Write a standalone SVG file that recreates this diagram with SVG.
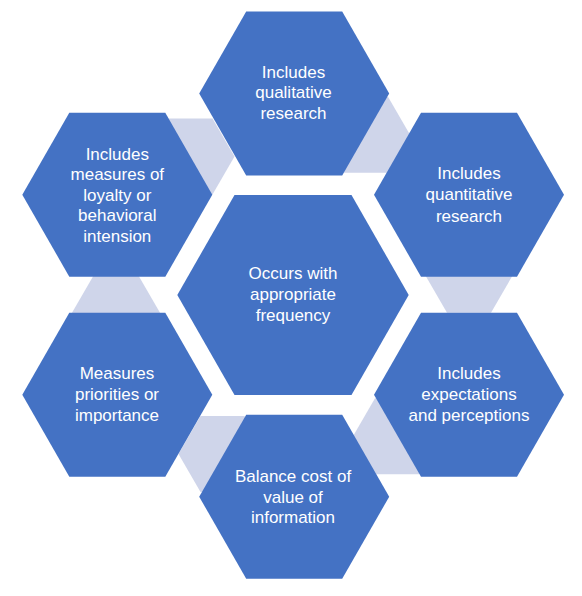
<svg xmlns="http://www.w3.org/2000/svg" xmlns:xlink="http://www.w3.org/1999/xlink" width="582" height="596" viewBox="0 0 582 596">
<style>
.hex{fill:#4472C4}
.con{fill:#CFD5EA}
.t{fill:#FFFFFF;font-family:"Liberation Sans",Arial,sans-serif;font-size:17px;text-anchor:middle}
</style>
<defs>
<polygon id="hexO" points="-95,0 -48,-82 48,-82 95,0 48,82 -48,82"/>
<polygon id="hexC" points="-115.7,0 -58.5,-100 58.5,-100 115.7,0 58.5,100 -58.5,100"/>
<polygon id="hexS" points="-44,0 -22,-38 22,-38 44,0 22,38 -22,38"/>
</defs>
<rect width="582" height="596" fill="#FFFFFF"/>
<g id="connectors">
<use xlink:href="#hexS" class="con" transform="translate(366,134.7)"/>
<use xlink:href="#hexS" class="con" transform="translate(469,274.7)"/>
<use xlink:href="#hexS" class="con" transform="translate(397,436.3)"/>
<use xlink:href="#hexS" class="con" transform="translate(222.5,454)"/>
<use xlink:href="#hexS" class="con" transform="translate(116,312.7)"/>
<use xlink:href="#hexS" class="con" transform="translate(190.5,156.5)"/>
</g>
<g id="center">
<use xlink:href="#hexC" class="hex" transform="translate(293,295)"/>
<text class="t" x="293" y="279.3">Occurs with</text>
<text class="t" x="293" y="300.3">appropriate</text>
<text class="t" x="293" y="321">frequency</text>
</g>
<g id="top">
<use xlink:href="#hexO" class="hex" transform="translate(294.2,93.5)"/>
<text class="t" x="293.5" y="77.7">Includes</text>
<text class="t" x="293.5" y="98.3">qualitative</text>
<text class="t" x="293.5" y="119.3">research</text>
</g>
<g id="topRight">
<use xlink:href="#hexO" class="hex" transform="translate(469,194.7)"/>
<text class="t" x="469" y="179.3">Includes</text>
<text class="t" x="469" y="200.3">quantitative</text>
<text class="t" x="469" y="221.7">research</text>
</g>
<g id="bottomRight">
<use xlink:href="#hexO" class="hex" transform="translate(469,394.7)"/>
<text class="t" x="469" y="379.3">Includes</text>
<text class="t" x="469" y="400.3">expectations</text>
<text class="t" x="469" y="421">and perceptions</text>
</g>
<g id="bottom">
<use xlink:href="#hexO" class="hex" transform="translate(294.2,496.7)"/>
<text class="t" x="293" y="481.7">Balance cost of</text>
<text class="t" x="293" y="502.7">value of</text>
<text class="t" x="293" y="522.7">information</text>
</g>
<g id="bottomLeft">
<use xlink:href="#hexO" class="hex" transform="translate(117.3,394.7)"/>
<text class="t" x="117" y="379.3">Measures</text>
<text class="t" x="117" y="400.3">priorities or</text>
<text class="t" x="117" y="421">importance</text>
</g>
<g id="topLeft">
<use xlink:href="#hexO" class="hex" transform="translate(117.3,194.7)"/>
<text class="t" x="117.3" y="159.7">Includes</text>
<text class="t" x="117.3" y="180.2">measures of</text>
<text class="t" x="117.3" y="200.7">loyalty or</text>
<text class="t" x="117.3" y="221.2">behavioral</text>
<text class="t" x="117.3" y="241.7">intension</text>
</g>
</svg>
